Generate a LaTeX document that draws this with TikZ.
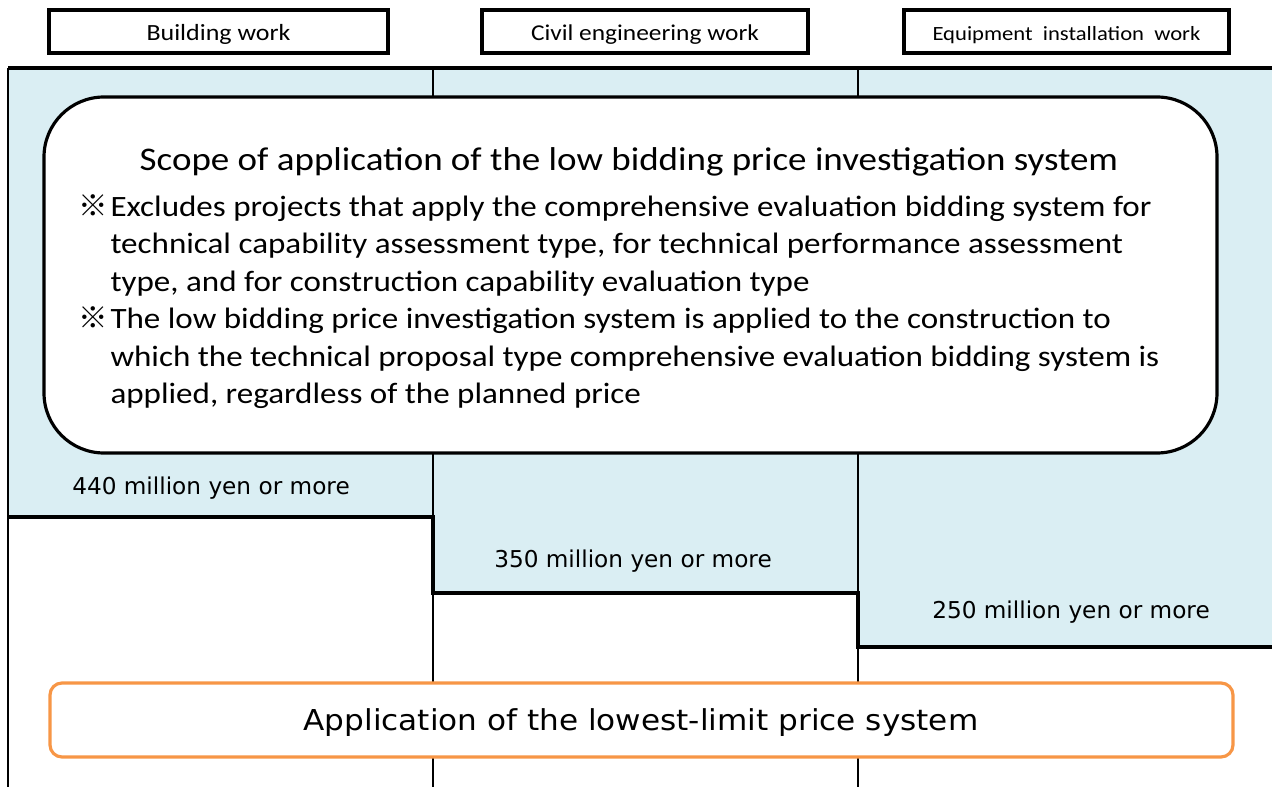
\documentclass[tikz,border=0pt]{standalone}
\usepackage{fontspec}
\setmainfont{Carlito}
\newfontfamily\widefont[FakeStretch=1.12]{Carlito}
\newfontfamily\gothic{DejaVu Sans}
\newfontfamily\widegothic[FakeStretch=1.08]{DejaVu Sans}
\newfontfamily\cjk{Noto Sans CJK JP}
\definecolor{paleblue}{HTML}{DAEEF3}
\definecolor{boxorange}{HTML}{F79646}
\newcommand{\refmark}{{\cjk ※}}
\tikzset{
  headbox/.style={draw, line width=2pt, minimum height=0.86cm, inner sep=0pt, text height=0.37cm, text depth=0cm},
  divider/.style={line width=1.1pt},
  stepline/.style={line width=2.2pt},
  amount/.style={font=\gothic\fontsize{13.2}{15}\selectfont},
}
\begin{document}
\begin{tikzpicture}[x=0.02cm, y=-0.02cm]
            \useasboundingbox (0, 0) rectangle (1272, 787);
            % shaded area above the thresholds
            \fill[paleblue](8, 68)--(1272, 68)--(1272, 647)--(858, 647)--(858, 593)--(433, 593)--(433, 517)--(8, 517)--cycle;
            \draw[divider](8, 68)--(8, 787);
            \draw[divider](433, 68)--(433, 787);
            \draw[divider](858, 68)--(858, 787);
            \draw[line width=1.8pt](8, 68)--(1272, 68);
            \draw[stepline](8, 517)--(433, 517)--(433, 593)--(858, 593)--(858, 647)--(1272, 647);
            % column headers
            \node[headbox, minimum width=6.78cm, font=\widefont\fontsize{13.2}{15}\selectfont](build) at (218.5, 31.5){Building work};
            \node[headbox, minimum width=6.52cm, font=\widefont\fontsize{12.9}{15}\selectfont](civil) at (645, 31.5){Civil engineering work};
            \node[headbox, minimum width=6.50cm, font=\widefont\fontsize{11.5}{13}\selectfont](equip) at (1066.5, 31.5){Equipment\ \ installation\ \ work};
            % scope box
            \draw[line width=1.8pt, fill=white, rounded corners=1.2cm](44, 97)rectangle(1217, 453);
            \node[font=\widefont\fontsize{18.8}{22}\selectfont](scope) at (629, 162){Scope of application of the low bidding price investigation system};
            \node[anchor=north west, inner sep=0pt, font=\widefont\fontsize{16.8}{21.3}\selectfont](notes) at (78, 190){%
              \begin{tabular}{@{}l@{\hspace{1.5pt}}l@{}}
                \refmark & Excludes projects that apply the comprehensive evaluation bidding system for\\
                & technical capability assessment type, for technical performance assessment\\
                & type, and for construction capability evaluation type\\
                \refmark & The low bidding price investigation system is applied to the construction to\\
                & which the technical proposal type comprehensive evaluation bidding system is\\
                & applied, regardless of the planned price
              \end{tabular}};
            % thresholds
            \node[amount](build-amt) at (211, 488){440 million yen or more};
            \node[amount](civil-amt) at (633, 561){350 million yen or more};
            \node[amount](equip-amt) at (1071, 612){250 million yen or more};
            % lowest-limit price box
            \draw[boxorange, line width=1.8pt, fill=white, rounded corners=0.24cm](50, 683)rectangle(1233, 757);
            \node[font=\widegothic\fontsize{16.4}{19}\selectfont](lowest) at (641, 723){Application of the lowest-limit price system};
        \end{tikzpicture}
\end{document}
